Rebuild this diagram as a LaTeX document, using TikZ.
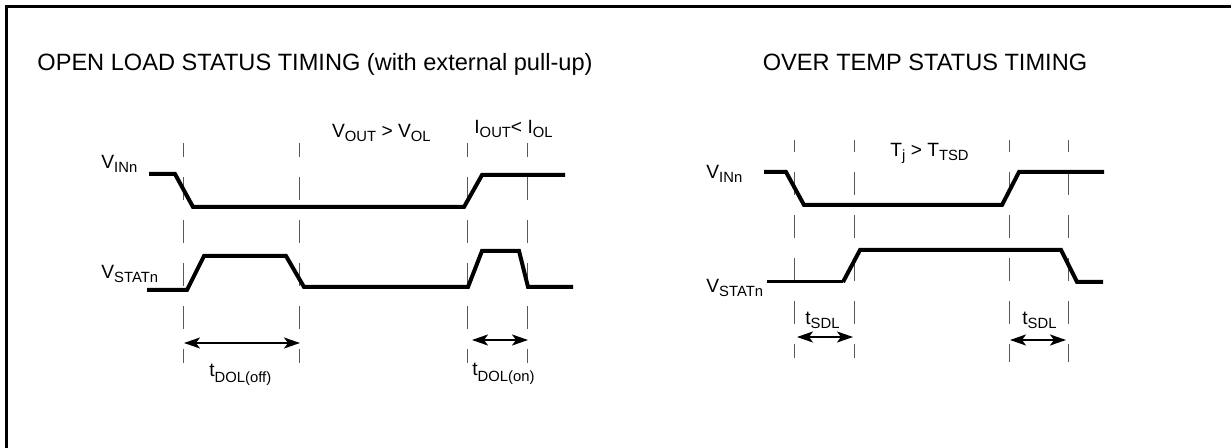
\documentclass[tikz,border=0pt]{standalone}
\usepackage{fontspec}
\setmainfont{Liberation Sans}
\usetikzlibrary{arrows.meta}

\newcommand{\sbs}[2][0.3ex]{\raisebox{-#1}{\fontsize{7.4}{8}\selectfont #2}}

\begin{document}
\begin{tikzpicture}[x=0.5pt,y=-0.5pt,
    wave/.style={line width=2pt},
    guide/.style={line width=0.5pt,black!65,dash pattern=on 11.5pt off 10pt},
    span/.style={line width=1pt,{Stealth[length=8pt,width=5.5pt,inset=2pt]}-{Stealth[length=8pt,width=5.5pt,inset=2pt]}},
    heading/.style={font=\fontsize{11.8}{14}\selectfont,inner sep=0pt},
    lbl/.style={font=\fontsize{9.6}{11}\selectfont,inner sep=0pt,anchor=base west}]
  \useasboundingbox (0,0) rectangle (1231,448);
  \draw[line width=1.5pt] (6.5,448) -- (6.5,6.5) -- (1231,6.5);

  % open load
  \node[heading,anchor=base west] (oltitle) at (37,71) {OPEN LOAD STATUS TIMING (with external pull-up)};

  \draw[guide,dash phase=4.5pt] (183,143) -- (183,363);
  \draw[guide,dash phase=4.5pt] (299,143) -- (299,363);
  \draw[guide,dash phase=4.5pt] (467,143) -- (467,363);
  \draw[guide,dash phase=4.5pt] (527,143) -- (527,363);

  \node[lbl] (vin1) at (101,169) {V\sbs{INn}};
  \node[lbl] (vstat1) at (101,279) {V\sbs{STATn}};
  \node[lbl,anchor=base east] (vout) at (431,138) {V\sbs{OUT} > V\sbs{OL}};
  \node[lbl] (iout) at (474,134) {I\sbs{OUT}< I\sbs{OL}};

  \draw[wave] (149,174) -- (175,174) -- (193,207) -- (464,207) -- (482,175) -- (565,175);
  \draw[wave] (147,290) -- (187,290) -- (204,256) -- (286,256) -- (304,287)
    -- (468,287) -- (482,251) -- (519,251) -- (528,287) -- (573,287);

  \coordinate (off1) at (184,343);
  \coordinate (off2) at (300,343);
  \coordinate (on1) at (472,340);
  \coordinate (on2) at (528,340);
  \draw[span] (off1) -- (off2);
  \draw[span] (on1) -- (on2);

  \node[lbl] (toff) at (209,377) {t\sbs[0.55ex]{DOL(off)}};
  \node[lbl] (ton) at (472,376) {t\sbs[0.55ex]{DOL(on)}};

  % over temp
  \node[heading,anchor=base] (ottitle) at (925,71) {OVER TEMP STATUS TIMING};

  \draw[guide,dash phase=5.5pt] (794,140) -- (794,358);
  \draw[guide,dash phase=5.5pt] (854,140) -- (854,358);
  \draw[guide,dash phase=5.5pt] (1009,140) -- (1009,362);
  \draw[guide,dash phase=5.5pt] (1068,140) -- (1068,362);

  \node[lbl] (vin2) at (706,179) {V\sbs{INn}};
  \node[lbl] (vstat2) at (706,293) {V\sbs{STATn}};
  \node[lbl] (tj) at (890,157) {T\sbs{j} > T\sbs{TSD}};

  \draw[wave] (764,172) -- (786,172) -- (804,205) -- (1002,205) -- (1019,172) -- (1104,172);
  \draw[wave,line width=1.5pt] (767,282) -- (843,282);
  \draw[wave] (843,282) -- (860,250) -- (1061,250) -- (1077,282) -- (1103,282);

  \node[lbl] (sdl1) at (805,325) {t\sbs{SDL}};
  \node[lbl] (sdl2) at (1022,325) {t\sbs{SDL}};

  \coordinate (sa1) at (797,337);
  \coordinate (sa2) at (853,337);
  \coordinate (sb1) at (1010,340);
  \coordinate (sb2) at (1066,340);
  \draw[span] (sa1) -- (sa2);
  \draw[span] (sb1) -- (sb2);
\end{tikzpicture}
\end{document}
